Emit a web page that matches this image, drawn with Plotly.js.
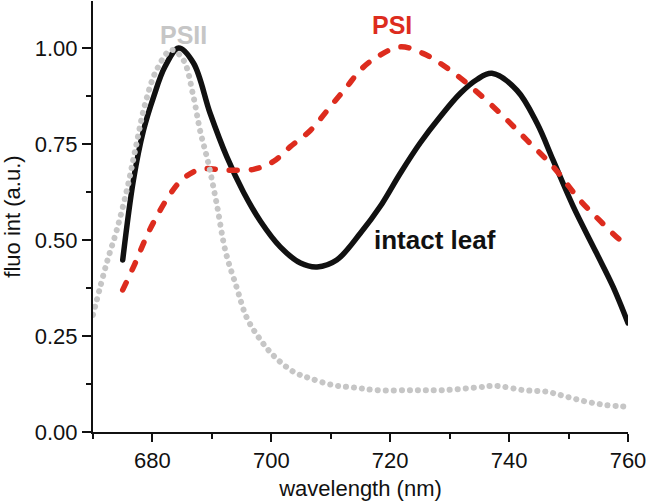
<!DOCTYPE html>
<html>
<head>
<meta charset="utf-8">
<script src="https://cdn.plot.ly/plotly-3.0.1.min.js"></script>
<style>
  html, body { margin: 0; padding: 0; background: #fff; }
  #chart { width: 646px; height: 501px; }
  .js-line { stroke-linecap: round; stroke-linejoin: round; }
</style>
</head>
<body>
<div id="chart"></div>
<script>
// Intact leaf (black solid)
const leafX = [675, 676.8, 678.5, 680.2, 682.1, 684.4, 686.9, 689.7, 692.5, 695.3, 698.2, 701.5, 704.9, 707.7, 711, 715, 718.3, 721.7, 725, 728.4, 731.8, 734.6, 737.1, 741.3, 744.7, 747.4, 750.8, 754.7, 757.5, 760];
const leafY = [0.448, 0.656, 0.786, 0.873, 0.951, 1.0, 0.961, 0.830, 0.717, 0.625, 0.548, 0.482, 0.440, 0.430, 0.448, 0.518, 0.587, 0.674, 0.752, 0.821, 0.882, 0.918, 0.934, 0.890, 0.804, 0.708, 0.587, 0.466, 0.378, 0.284];

// PSI (red dashed)
const psiX = [675, 677.1, 679, 680.7, 682.7, 684.9, 688, 692.5, 697, 700.3, 703.2, 706.6, 709.9, 712.7, 715, 717.8, 721.7, 725.5, 728.9, 732.9, 738.5, 743, 747.4, 751.9, 755.3, 758.7, 760];
const psiY = [0.370, 0.440, 0.509, 0.561, 0.613, 0.656, 0.684, 0.682, 0.684, 0.704, 0.743, 0.786, 0.847, 0.899, 0.943, 0.977, 1.003, 0.986, 0.955, 0.908, 0.830, 0.760, 0.691, 0.604, 0.550, 0.500, 0.490];

// PSII (grey dotted)
const psiiX = [670, 672.3, 674, 675.7, 677.1, 678.8, 680.7, 683.2, 685.2, 686.9, 688, 689.4, 690.8, 692.3, 694.2, 695.8, 697.8, 700.3, 703.7, 706.5, 710.4, 713.8, 717.7, 723.9, 728.9, 734.5, 737.9, 742.4, 746.3, 749.6, 753, 756.4, 760];
const psiiY = [0.305, 0.440, 0.526, 0.630, 0.734, 0.856, 0.943, 0.995, 0.969, 0.873, 0.786, 0.700, 0.595, 0.470, 0.375, 0.300, 0.248, 0.200, 0.157, 0.140, 0.122, 0.116, 0.109, 0.109, 0.109, 0.116, 0.120, 0.109, 0.105, 0.092, 0.079, 0.070, 0.066];

// Axis ticks
const xTickVals = [680, 700, 720, 740, 760];
const xTickText = ['680', '700', '720', '740', '760'];
const yTickVals = [0, 0.25, 0.5, 0.75, 1.0];
const yTickText = ['0.00', '0.25', '0.50', '0.75', '1.00'];

// Labels
const seriesLabels = ['intact leaf', 'PSI', 'PSII'];

const FONT = 'Liberation Sans, Arial, Helvetica, sans-serif';
const XR = [670, 760];
const YR = [0, 1.1224];

const traces = [
  { x: leafX, y: leafY, mode: 'lines', name: seriesLabels[0],
    line: { color: '#111111', width: 5.5, shape: 'spline', smoothing: 1 } },
  { x: psiX, y: psiY, mode: 'lines', name: seriesLabels[1],
    line: { color: '#dd2c1e', width: 5.5, shape: 'spline', smoothing: 1, dash: '8px,14px' } },
  { x: psiiX, y: psiiY, mode: 'lines', name: seriesLabels[2],
    line: { color: '#c6c6c6', width: 6, shape: 'spline', smoothing: 1, dash: '0.1px,7.9px' } }
];

const layout = {
  width: 646, height: 501,
  margin: { l: 93, r: 18, t: 1, b: 69 },
  paper_bgcolor: '#ffffff', plot_bgcolor: '#ffffff',
  showlegend: false,
  font: { family: FONT, size: 22, color: '#111' },
  xaxis: {
    range: XR, showgrid: false, zeroline: false,
    showline: true, linecolor: '#111', linewidth: 2,
    ticks: 'outside', ticklen: 8, tickwidth: 2, tickcolor: '#111',
    tickvals: xTickVals, ticktext: xTickText, ticklabeloverflow: 'allow',
    tickfont: { family: FONT, size: 22, color: '#111' },
    minor: { ticks: 'outside', ticklen: 5, tickwidth: 2, tickcolor: '#111', dtick: 10, tick0: 670, showgrid: false },
    title: { text: 'wavelength (nm)', font: { family: FONT, size: 22, color: '#111' }, standoff: 8 }
  },
  yaxis: {
    range: YR, showgrid: false, zeroline: false,
    showline: true, linecolor: '#111', linewidth: 2,
    ticks: 'outside', ticklen: 9, tickwidth: 2, tickcolor: '#111',
    tickvals: yTickVals, ticktext: yTickText, ticklabeloverflow: 'allow',
    tickfont: { family: FONT, size: 22, color: '#111' },
    minor: { ticks: 'outside', ticklen: 5, tickwidth: 2, tickcolor: '#111', dtick: 0.125, tick0: 0, showgrid: false },
    title: { text: 'fluo int (a.u.)', font: { family: FONT, size: 22, color: '#111' }, standoff: 10 }
  },
  xaxis2: {
    overlaying: 'x', side: 'top', range: XR, showgrid: false, zeroline: false,
    showline: true, linecolor: '#111', linewidth: 2,
    ticks: 'inside', ticklen: 7, tickwidth: 2, tickcolor: '#111',
    dtick: 10, tick0: 670, showticklabels: false
  },
  yaxis2: {
    overlaying: 'y', side: 'right', range: YR, showgrid: false, zeroline: false,
    showline: true, linecolor: '#111', linewidth: 2,
    ticks: 'inside', ticklen: 9, tickwidth: 2, tickcolor: '#111',
    dtick: 0.125, tick0: 0, showticklabels: false
  },
  annotations: [
    { x: 727.6, y: 0.50, xref: 'x', yref: 'y', text: '<b>' + seriesLabels[0] + '</b>', showarrow: false,
      font: { family: FONT, size: 26, color: '#111' }, xanchor: 'center', yanchor: 'middle' },
    { x: 720.3, y: 1.061, xref: 'x', yref: 'y', text: '<b>' + seriesLabels[1] + '</b>', showarrow: false,
      font: { family: FONT, size: 25, color: '#dd2c1e' }, xanchor: 'center', yanchor: 'middle' },
    { x: 685.2, y: 1.033, xref: 'x', yref: 'y', text: '<b>' + seriesLabels[2] + '</b>', showarrow: false,
      font: { family: FONT, size: 25, color: '#c6c6c6' }, xanchor: 'center', yanchor: 'middle' }
  ]
};

Plotly.newPlot('chart', traces, layout, { displayModeBar: false, staticPlot: true });
</script>
</body>
</html>
